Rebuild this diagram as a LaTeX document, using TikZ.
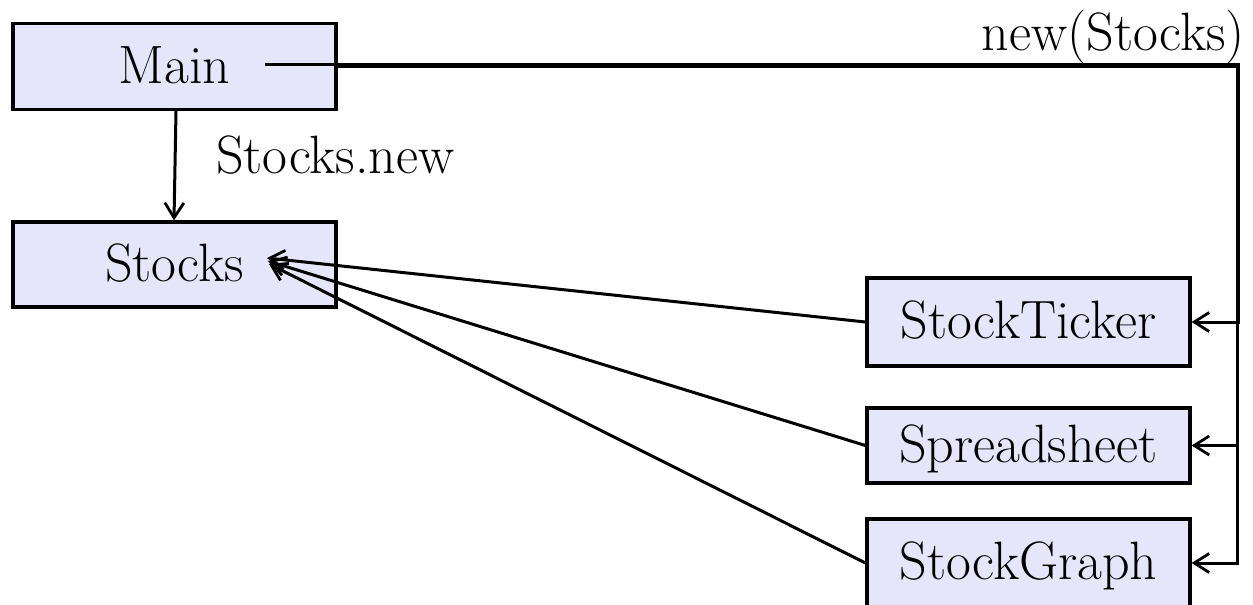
\documentclass[tikz,border=0pt]{standalone}
\usetikzlibrary{arrows.meta}
\definecolor{boxfill}{RGB}{230,230,250}
\begin{document}
\begin{tikzpicture}[x=1pt,y=-1pt,
  cls/.style={draw,line width=3.2pt,fill=boxfill,minimum width=323pt,inner sep=0pt,
    text height=37pt,text depth=4pt,font=\fontsize{54}{62}\selectfont},
  lbl/.style={font=\fontsize{54}{62}\selectfont,inner sep=0pt},
  conn/.style={line width=3pt},
  tip/.style={-{Straight Barb[length=15pt,width=19pt,line width=2.8pt]}}]
\useasboundingbox (0,0) rectangle (1253,605);

\node[cls,minimum height=86pt] (Main) at (174.5,66.5) {Main};
\node[cls,minimum height=85pt] (Stocks) at (174.5,264.5) {Stocks};
\node[cls,minimum height=88pt] (StockTicker) at (1028.5,322) {StockTicker};
\node[cls,minimum height=75pt] (Spreadsheet) at (1028.5,445.5) {Spreadsheet};
\node[cls,minimum height=88pt] (StockGraph) at (1028.5,563) {StockGraph};

\node[lbl,anchor=base west] (lblnew) at (216,173) {Stocks.new};
\node[lbl,anchor=base east] (lblnewS) at (1245,50) {new(Stocks)};

\coordinate (mainin) at (265,64.8);
\coordinate (trunkA) at (1238.8,64.8);
\coordinate (trunkB) at (1237,66.5);
\coordinate (s1) at (267,258);
\coordinate (s2) at (268,261);
\coordinate (s3) at (269,264);

\draw[conn,tip] (mainin) -- (trunkA) |- (StockTicker.east);
\draw[conn,tip] (Main.east) -- (trunkB) |- (Spreadsheet.east);
\draw[conn,tip] (Main.east) -- (trunkB) |- (StockGraph.east);

\draw[conn,tip] ([xshift=1.5pt]Main.south) -- ([xshift=-0.5pt]Stocks.north);

\draw[conn,tip] (StockTicker.west) -- (s1);
\draw[conn,tip] (Spreadsheet.west) -- (s2);
\draw[conn,tip] (StockGraph.west) -- (s3);
\end{tikzpicture}
\end{document}
